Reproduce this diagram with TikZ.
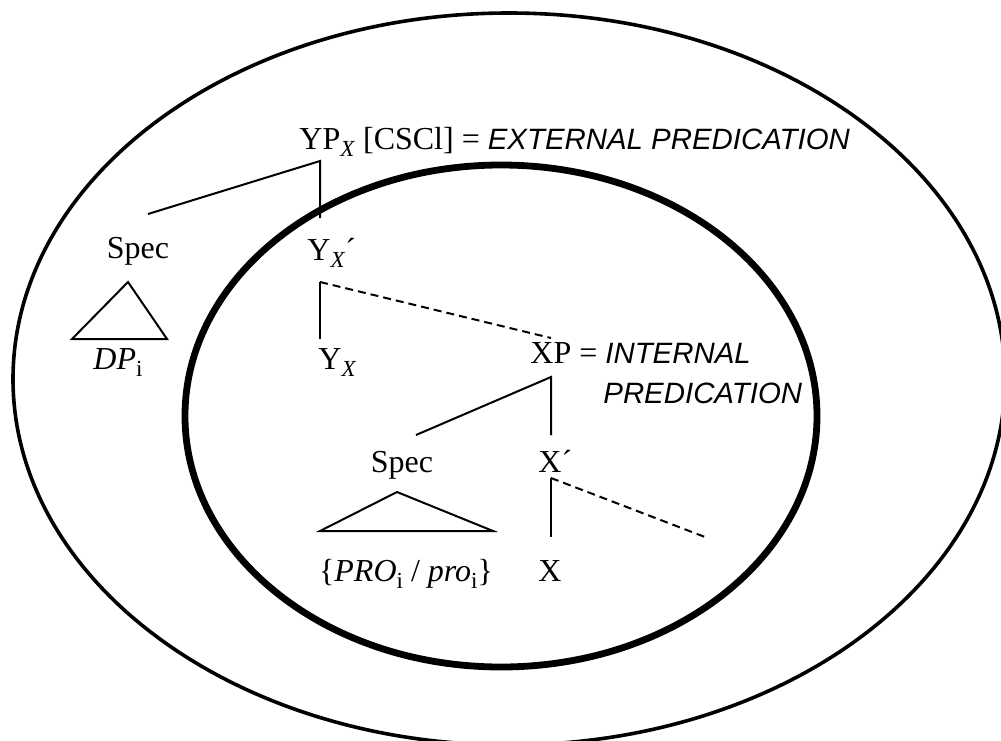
\documentclass[tikz,border=0pt]{standalone}
\usepackage{fontspec}
\setmainfont{Liberation Serif}
\newfontfamily\predfont{Liberation Sans}
\newcommand{\lowsub}[1]{\raisebox{-0.22em}{\fontsize{11.5}{12}\selectfont #1}}
\newcommand{\predtext}[1]{{\predfont\itshape\fontsize{14.7}{17}\selectfont #1}}
\begin{document}
\begin{tikzpicture}[x=0.5pt,y=-0.5pt,
	cat/.style={inner sep=0pt,font=\fontsize{16}{19}\selectfont},
	branch/.style={line width=1pt},
	open/.style={line width=1pt,dash pattern=on 4pt off 2.5pt}]
	\useasboundingbox (0,0) rectangle (1001,740);
	% the two predication domains
	\draw[line width=1.8pt] (509,379) ellipse [x radius=248pt,y radius=183pt];
	\draw[line width=3.4pt] (501,416) ellipse [x radius=158pt,y radius=125.5pt];
	% YP
	\node[cat,anchor=base west] (yp) at (299,149) {YP\lowsub{\textit{X}} [CSCl] = \predtext{EXTERNAL PREDICATION}};
	\coordinate (ypfork) at (320,161);
	\coordinate (specAtop) at (148,214);
	\coordinate (ybartop) at (320,218);
	\draw[branch] (specAtop) -- (ypfork) -- (ybartop);
	\node[cat,anchor=base] (specA) at (138,258) {Spec};
	\draw[branch] (128,282) -- (72,339) -- (167,339) -- cycle;
	\node[cat,anchor=base] (dp) at (118,369) {\textit{DP}\lowsub{i}};
	% Y'
	\node[cat,anchor=base west] (ybar) at (307,260) {Y\lowsub{\textit{X}}´};
	\coordinate (ybarfork) at (320,282);
	\coordinate (yheadtop) at (320,339);
	\coordinate (xptop) at (551,338);
	\draw[branch] (yheadtop) -- (ybarfork);
	\draw[open] (ybarfork) -- (xptop);
	\node[cat,anchor=base west] (yhead) at (318,369) {Y\lowsub{\textit{X}}};
	% XP
	\node[cat,anchor=base west] (xp) at (530,363) {XP = \predtext{INTERNAL}};
	\node[anchor=base west,inner sep=0pt] (xpname) at (603,403) {\predtext{PREDICATION}};
	\coordinate (xpfork) at (551,377);
	\coordinate (specBtop) at (416,435);
	\coordinate (xbartop) at (551,435);
	\draw[branch] (specBtop) -- (xpfork) -- (xbartop);
	\node[cat,anchor=base] (specB) at (402,472) {Spec};
	\draw[branch] (397,492) -- (320,531) -- (493,531) -- cycle;
	\node[cat,anchor=base] (pro) at (406,581) {\{\textit{PRO}\lowsub{i} / \textit{pro}\lowsub{i}\}};
	% X'
	\node[cat,anchor=base west] (xbar) at (538,472) {X´};
	\coordinate (xbarfork) at (551,478);
	\coordinate (xheadtop) at (551,537);
	\coordinate (compl) at (705,537);
	\draw[branch] (xheadtop) -- (xbarfork);
	\draw[open] (xbarfork) -- (compl);
	\node[cat,anchor=base west] (xhead) at (538,581) {X};
\end{tikzpicture}
\end{document}
